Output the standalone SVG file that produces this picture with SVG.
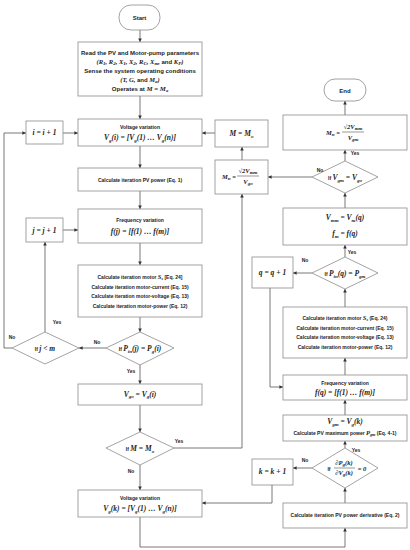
<svg xmlns="http://www.w3.org/2000/svg" width="410" height="550" viewBox="0 0 410 550">
<defs>
<marker id="a" viewBox="0 0 6 6" refX="6" refY="3" markerUnits="userSpaceOnUse" markerWidth="3.6" markerHeight="3.6" orient="auto"><path d="M0,0 L6,3 L0,6 z" fill="#333"/></marker>
<style>
.b{fill:#fff;stroke:#8c8c8c;stroke-width:0.8}
.c{fill:none;stroke:#555;stroke-width:0.8;marker-end:url(#a)}
.n{fill:none;stroke:#555;stroke-width:0.8}
.t{font-family:"Liberation Sans",Arial,sans-serif;font-size:5px;font-weight:bold;fill:#222;text-anchor:middle}
.tl{font-family:"Liberation Sans",Arial,sans-serif;font-size:6px;font-weight:bold;fill:#222;text-anchor:middle}
.m{font-family:"Liberation Serif","Times New Roman",serif;font-size:7.5px;font-style:italic;font-weight:bold;fill:#222;text-anchor:middle}
.s{font-size:5px}
.fr{stroke:#333;stroke-width:0.5}
</style>
</defs>

<g id="connectors">
<path class="c" d="M140,30 V42"/>
<path class="c" d="M140,96 V119"/>
<path class="c" d="M63,133 H78"/>
<path class="c" d="M12,348 H4 V133 H26"/>
<path class="c" d="M215,133 H202"/>
<path class="c" d="M140,146 V168"/>
<path class="c" d="M140,191 V209"/>
<path class="c" d="M63,230 H78"/>
<path class="c" d="M140,243 V265"/>
<path class="c" d="M140,317 V332"/>
<path class="c" d="M106,348 H79"/>
<path class="c" d="M45,332 V242"/>
<path class="c" d="M140,365 V384"/>
<path class="c" d="M140,405 V432"/>
<path class="c" d="M140,465 V490"/>
<path class="c" d="M174,448 H242 V194"/>
<path class="c" d="M140,517 V547 H345 V528"/>
<path class="c" d="M345,503 V488"/>
<path class="c" d="M312,468 H293"/>
<path class="c" d="M272,485 V503 H202"/>
<path class="c" d="M345,448 V441"/>
<path class="c" d="M345,415 V400"/>
<path class="c" d="M270,288 V387 H283"/>
<path class="c" d="M345,375 V358"/>
<path class="c" d="M345,307 V289"/>
<path class="c" d="M312,273 H293"/>
<path class="c" d="M345,257 V245"/>
<path class="c" d="M345,208 V193"/>
<path class="c" d="M312,177 H268"/>
<path class="c" d="M345,161 V150"/>
<path class="c" d="M345,115 V101"/>
<path class="c" d="M242,160 V147"/>
</g>

<g id="start"><rect class="b" x="119" y="5" width="41" height="25" rx="12"/><text class="tl" x="139.5" y="20">Start</text></g>

<g id="init">
<rect class="b" x="78" y="42" width="124" height="54"/>
<text class="tl" x="140" y="55">Read the PV and Motor-pump parameters</text>
<text class="m" x="140" y="64" style="font-size:6.5px">(R<tspan class="s" dy="1.3">1</tspan><tspan dy="-1.3">, R</tspan><tspan class="s" dy="1.3">2</tspan><tspan dy="-1.3">, X</tspan><tspan class="s" dy="1.3">1</tspan><tspan dy="-1.3">, X</tspan><tspan class="s" dy="1.3">2</tspan><tspan dy="-1.3">, R</tspan><tspan class="s" dy="1.3">C</tspan><tspan dy="-1.3">, X</tspan><tspan class="s" dy="1.3">m</tspan><tspan dy="-1.3">, </tspan><tspan style="font-style:normal;font-family:'Liberation Sans',Arial,sans-serif;font-size:6px">and</tspan><tspan> K</tspan><tspan class="s" dy="1.3">P</tspan><tspan dy="-1.3">)</tspan></text>
<text class="tl" x="140" y="73">Sense the system operating conditions</text>
<text class="m" x="140" y="82" style="font-size:6.5px">(T, G, <tspan style="font-style:normal;font-family:'Liberation Sans',Arial,sans-serif;font-size:6px">and</tspan> M<tspan class="s" dy="1.3">a</tspan><tspan dy="-1.3">)</tspan></text>
<text class="tl" x="140" y="91">Operates at <tspan style="font-family:'Liberation Serif',serif;font-style:italic;font-size:6.8px">M = M</tspan><tspan style="font-family:'Liberation Serif',serif;font-style:italic;font-size:4.5px" dy="1.3">a</tspan></text>
</g>

<g id="vvar_i">
<rect class="b" x="78" y="119" width="124" height="27"/>
<text class="t" x="140" y="129">Voltage variation</text>
<text class="m" x="140" y="140">V<tspan class="s" dy="1.5">g</tspan><tspan dy="-1.5">(i) = [V</tspan><tspan class="s" dy="1.5">g</tspan><tspan dy="-1.5">(1) … V</tspan><tspan class="s" dy="1.5">g</tspan><tspan dy="-1.5">(n)]</tspan></text>
</g>

<g id="inc_i"><rect class="b" x="26" y="121" width="37" height="23"/><text class="m" x="44.5" y="135">i = i + 1</text></g>

<g id="m_set"><rect class="b" x="215" y="120" width="53" height="27"/><text class="m" x="241.5" y="136">M = M<tspan class="s" dy="1.5">o</tspan></text></g>

<g id="calc_pv"><rect class="b" x="78" y="168" width="124" height="23"/><text class="t" x="140" y="181.5">Calculate iteration PV power (Eq. 1)</text></g>

<g id="fvar_j">
<rect class="b" x="78" y="209" width="124" height="34"/>
<text class="t" x="140" y="222">Frequency variation</text>
<text class="m" x="140" y="234">f(j) = [f(1) … f(m)]</text>
</g>

<g id="inc_j"><rect class="b" x="26" y="218" width="37" height="24"/><text class="m" x="44.5" y="232.5">j = j + 1</text></g>

<g id="calc_motor_l">
<rect class="b" x="78" y="265" width="124" height="52"/>
<text class="t" x="140" y="279">Calculate iteration motor <tspan style="font-family:'Liberation Serif',serif;font-style:italic;font-size:6.5px">S</tspan><tspan style="font-family:'Liberation Serif',serif;font-style:italic;font-size:4.2px" dy="1.2">s</tspan><tspan dy="-1.2"> [Eq. 24]</tspan></text>
<text class="t" x="140" y="288.5">Calculate iteration motor-current (Eq. 15)</text>
<text class="t" x="140" y="298">Calculate iteration motor-voltage (Eq. 13)</text>
<text class="t" x="140" y="307.5">Calculate iteration motor-power (Eq. 12)</text>
</g>

<g id="dec_pj">
<polygon class="b" points="140,332 174,348 140,365 106,348"/>
<text class="m" x="140" y="351"><tspan style="font-style:normal;font-family:'Liberation Sans',Arial,sans-serif;font-size:5px">If </tspan> P<tspan class="s" dy="1.5">in</tspan><tspan dy="-1.5">(j) = P</tspan><tspan class="s" dy="1.5">g</tspan><tspan dy="-1.5">(i)</tspan></text>
</g>

<g id="dec_jm">
<polygon class="b" points="45,332 79,348 45,364 12,348"/>
<text class="m" x="45" y="351"><tspan style="font-style:normal;font-family:'Liberation Sans',Arial,sans-serif;font-size:5px">If </tspan> j &lt; m</text>
</g>

<g id="vgo"><rect class="b" x="78" y="384" width="124" height="21"/><text class="m" x="140" y="396.5">V<tspan class="s" dy="1.5">go</tspan><tspan dy="-1.5"> = V</tspan><tspan class="s" dy="1.5">g</tspan><tspan dy="-1.5">(i)</tspan></text></g>

<g id="dec_m">
<polygon class="b" points="140,432 174,448 140,465 106,448"/>
<text class="m" x="140" y="451"><tspan style="font-style:normal;font-family:'Liberation Sans',Arial,sans-serif;font-size:5px">If </tspan> M = M<tspan class="s" dy="1.5">o</tspan></text>
</g>

<g id="vvar_k">
<rect class="b" x="78" y="490" width="124" height="27"/>
<text class="t" x="140" y="500">Voltage variation</text>
<text class="m" x="140" y="511">V<tspan class="s" dy="1.5">g</tspan><tspan dy="-1.5">(k) = [V</tspan><tspan class="s" dy="1.5">g</tspan><tspan dy="-1.5">(1) … V</tspan><tspan class="s" dy="1.5">g</tspan><tspan dy="-1.5">(n)]</tspan></text>
</g>

<g id="end"><rect class="b" x="324" y="79" width="42" height="22" rx="11"/><text class="tl" x="345" y="92.5">End</text></g>

<g id="mn_final">
<rect class="b" x="283" y="115" width="124" height="35"/>
<text class="m" x="333" y="135" style="font-size:6.5px">M<tspan class="s" dy="1.3">n</tspan><tspan dy="-1.3"> =</tspan></text>
<text class="m" x="353" y="129" style="font-size:6.5px">√2V<tspan class="s" dy="1.3">mm</tspan></text>
<line class="fr" x1="342" y1="132" x2="364" y2="132"/>
<text class="m" x="353" y="139.5" style="font-size:6.5px">V<tspan class="s" dy="1.3">gm</tspan></text>
</g>

<g id="mn_o">
<rect class="b" x="215" y="160" width="53" height="34"/>
<text class="m" x="229" y="179" style="font-size:6.5px">M<tspan class="s" dy="1.3">n</tspan><tspan dy="-1.3"> =</tspan></text>
<text class="m" x="248" y="173" style="font-size:6.5px">√2V<tspan class="s" dy="1.3">mm</tspan></text>
<line class="fr" x1="237" y1="176" x2="259" y2="176"/>
<text class="m" x="248" y="183.5" style="font-size:6.5px">V<tspan class="s" dy="1.3">go</tspan></text>
</g>

<g id="dec_vgm">
<polygon class="b" points="345,161 378,177 345,193 312,177"/>
<text class="m" x="345" y="180"><tspan style="font-style:normal;font-family:'Liberation Sans',Arial,sans-serif;font-size:5px">If </tspan> V<tspan class="s" dy="1.5">gm</tspan><tspan dy="-1.5"> = V</tspan><tspan class="s" dy="1.5">go</tspan></text>
</g>

<g id="vmm">
<rect class="b" x="283" y="208" width="124" height="37"/>
<text class="m" x="345" y="220">V<tspan class="s" dy="1.5">mm</tspan><tspan dy="-1.5"> = V</tspan><tspan class="s" dy="1.5">m</tspan><tspan dy="-1.5">(q)</tspan></text>
<text class="m" x="345" y="236">f<tspan class="s" dy="1.5">m</tspan><tspan dy="-1.5"> = f(q)</tspan></text>
</g>

<g id="dec_pq">
<polygon class="b" points="345,257 378,273 345,289 312,273"/>
<text class="m" x="345" y="276"><tspan style="font-style:normal;font-family:'Liberation Sans',Arial,sans-serif;font-size:5px">If </tspan> P<tspan class="s" dy="1.5">in</tspan><tspan dy="-1.5">(q) = P</tspan><tspan class="s" dy="1.5">gm</tspan></text>
</g>

<g id="inc_q"><rect class="b" x="252" y="257" width="41" height="31"/><text class="m" x="272.5" y="275">q = q + 1</text></g>

<g id="calc_motor_r">
<rect class="b" x="283" y="307" width="124" height="51"/>
<text class="t" x="345" y="320">Calculate iteration motor <tspan style="font-family:'Liberation Serif',serif;font-style:italic;font-size:6.5px">S</tspan><tspan style="font-family:'Liberation Serif',serif;font-style:italic;font-size:4.2px" dy="1.2">s</tspan><tspan dy="-1.2"> (Eq. 24)</tspan></text>
<text class="t" x="345" y="329.5">Calculate iteration motor-current (Eq. 15)</text>
<text class="t" x="345" y="339">Calculate iteration motor-voltage (Eq. 13)</text>
<text class="t" x="345" y="348.5">Calculate iteration motor-power (Eq. 12)</text>
</g>

<g id="fvar_q">
<rect class="b" x="283" y="375" width="124" height="25"/>
<text class="t" x="345" y="384.5">Frequency variation</text>
<text class="m" x="345" y="395">f(q) = [f(1) … f(m)]</text>
</g>

<g id="vgm">
<rect class="b" x="283" y="415" width="124" height="26"/>
<text class="m" x="345" y="424">V<tspan class="s" dy="1.5">gm</tspan><tspan dy="-1.5"> = V</tspan><tspan class="s" dy="1.5">g</tspan><tspan dy="-1.5">(k)</tspan></text>
<text class="t" x="345" y="435">Calculate PV maximum power <tspan style="font-family:'Liberation Serif',serif;font-style:italic;font-size:6.5px">P</tspan><tspan style="font-family:'Liberation Serif',serif;font-style:italic;font-size:4.2px" dy="1.2">gm</tspan><tspan dy="-1.2"> (Eq. 4-1)</tspan></text>
</g>

<g id="dec_dp">
<polygon class="b" points="345,448 378,468 345,488 312,468"/>
<text class="t" x="329" y="471">If</text>
<text class="m" x="344" y="465" style="font-size:6.5px">∂P<tspan class="s" dy="1.3">g</tspan><tspan dy="-1.3">(k)</tspan></text>
<line class="fr" x1="334" y1="468" x2="355" y2="468"/>
<text class="m" x="344" y="475" style="font-size:6.5px">∂V<tspan class="s" dy="1.3">g</tspan><tspan dy="-1.3">(k)</tspan></text>
<text class="m" x="362" y="470.5" style="font-size:6.5px">= 0</text>
</g>

<g id="inc_k"><rect class="b" x="252" y="459" width="41" height="26"/><text class="m" x="272.5" y="474">k = k + 1</text></g>

<g id="calc_deriv"><rect class="b" x="283" y="503" width="124" height="25"/><text class="t" x="345" y="517">Calculate iteration PV power derivative (Eq. 2)</text></g>

<g id="labels">
<text class="t" x="97" y="344">No</text>
<text class="t" x="131" y="373">Yes</text>
<text class="t" x="57" y="324">Yes</text>
<text class="t" x="12" y="339">No</text>
<text class="t" x="179" y="443">Yes</text>
<text class="t" x="131" y="473">No</text>
<text class="t" x="320" y="172">No</text>
<text class="t" x="355" y="155">Yes</text>
<text class="t" x="305" y="262">No</text>
<text class="t" x="352" y="254">Yes</text>
<text class="t" x="305" y="462">No</text>
<text class="t" x="356" y="452">Yes</text>
</g>
</svg>
